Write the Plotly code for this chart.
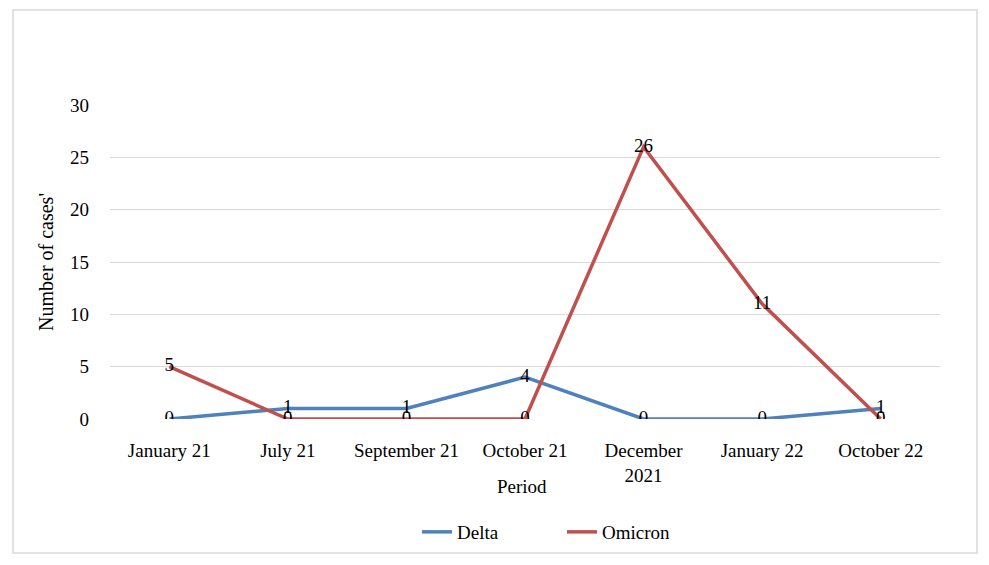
import plotly.graph_objects as go

periods = ["January 21", "July 21", "September 21", "October 21", "December<br>2021", "January 22", "October 22"]
delta = [0, 1, 1, 4, 0, 0, 1]
omicron = [5, 0, 0, 0, 26, 11, 0]

FONT = "Liberation Serif, Times New Roman, serif"
OFF = 8  # page body margin
W, H = 989 - 2 * OFF, 565 - 2 * OFF
# plot area in page pixels
PL, PR, PT, PB = 110, 940, 105, 419
L, T = PL - OFF, PT - OFF
R, B = W - (PR - OFF), H - (PB - OFF)
pw, ph = PR - PL, PB - PT

fig = go.Figure()
fig.add_trace(go.Scatter(x=periods, y=delta, name="Delta", mode="lines+text",
                         line=dict(color="#4F81BD", width=3.5),
                         text=[str(v) for v in delta], textposition="middle center",
                         textfont=dict(family=FONT, size=19, color="black")))
fig.add_trace(go.Scatter(x=periods, y=omicron, name="Omicron", mode="lines+text",
                         line=dict(color="#C0504D", width=3.5),
                         text=[str(v) for v in omicron], textposition="middle center",
                         textfont=dict(family=FONT, size=19, color="black")))

def px_x(p):
    return (p - PL) / pw

def px_y(p):
    return (PB - p) / ph

fig.add_shape(type="rect", xref="paper", yref="paper",
              x0=px_x(13), x1=px_x(977), y0=px_y(553), y1=px_y(10),
              line=dict(color="#D9D9D9", width=1.5), fillcolor="rgba(0,0,0,0)", layer="below")

fig.add_annotation(text="Period", xref="paper", yref="paper", x=px_x(522), y=px_y(486),
                   xanchor="center", yanchor="middle", showarrow=False,
                   font=dict(family=FONT, size=19, color="black"))

fig.update_layout(
    width=W, height=H,
    margin=dict(l=L, r=R, t=T, b=B, pad=0, autoexpand=False),
    paper_bgcolor="white", plot_bgcolor="white",
    font=dict(family=FONT, size=19, color="black"),
    showlegend=True,
    legend=dict(orientation="h", xref="container", yref="container",
                x=(562 - OFF) / W, xanchor="center", y=1 - (532 - OFF) / H, yanchor="middle",
                entrywidth=100, entrywidthmode="pixels",
                font=dict(family=FONT, size=19, color="black"), tracegroupgap=0),
    xaxis=dict(type="category", showgrid=False, showline=False, zeroline=False, automargin=False,
               ticks="", ticklabelstandoff=18, tickfont=dict(family=FONT, size=19, color="black"),
               range=[-0.5, 6.5]),
    yaxis=dict(range=[0, 30], dtick=5, showgrid=True, gridcolor="#D9D9D9", gridwidth=1,
               zeroline=False, showline=False, ticks="", ticklabelstandoff=20, automargin=False,
               tickfont=dict(family=FONT, size=19, color="black"),
               title=dict(text="Number of cases'", font=dict(family=FONT, size=20, color="black"), standoff=11)),
)

fig.write_html("out.html")
